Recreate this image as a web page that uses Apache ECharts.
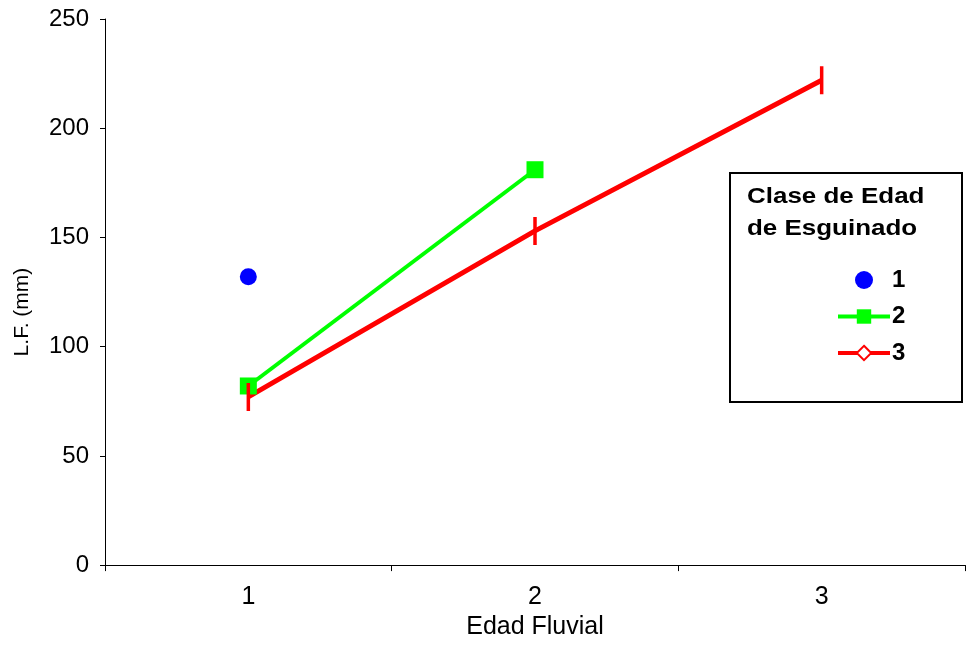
<!DOCTYPE html>
<html>
<head>
<meta charset="utf-8">
<script src="https://cdn.jsdelivr.net/npm/echarts@6/dist/echarts.min.js"></script>
<style>
  html, body { margin: 0; padding: 0; background: #fff; }
  #chart { width: 966px; height: 645px; }
</style>
</head>
<body>
<div id="chart"></div>
<script>
// Edad Fluvial categories and L.F. (mm) by age class
const categories = ['1', '2', '3'];
const clase1 = [132, null, null];
const clase2 = [82, 181, null];
const clase3 = [77, 153, 222];
const seriesNames = ['1', '2', '3'];
const yTicks = { min: 0, max: 250, interval: 50 };

const FONT = '"Liberation Sans", Arial, sans-serif';

const chart = echarts.init(document.getElementById('chart'), null, { renderer: 'canvas' });

chart.setOption({
  backgroundColor: '#ffffff',
  animation: false,
  grid: { left: 105, right: 1, top: 19, bottom: 76 },
  xAxis: {
    type: 'category',
    data: categories,
    boundaryGap: true,
    name: 'Edad Fluvial',
    nameLocation: 'middle',
    nameGap: 41,
    nameTextStyle: { fontFamily: FONT, fontSize: 25, color: '#000' },
    axisLine: { lineStyle: { color: '#000', width: 1 } },
    axisTick: { show: true, length: 6, lineStyle: { color: '#000' } },
    axisLabel: { fontFamily: FONT, fontSize: 25, color: '#000', margin: 20 },
    splitLine: { show: false }
  },
  yAxis: {
    type: 'value',
    min: yTicks.min,
    max: yTicks.max,
    interval: yTicks.interval,
    name: 'L.F. (mm)',
    nameLocation: 'middle',
    nameRotate: 90,
    nameGap: 72,
    nameTextStyle: { fontFamily: FONT, fontSize: 21, color: '#000', padding: [0, 40, 0, 0] },
    axisLine: { show: true, lineStyle: { color: '#000', width: 1 } },
    axisTick: { show: true, length: 5, lineStyle: { color: '#000' } },
    axisLabel: { fontFamily: FONT, fontSize: 24, color: '#000', margin: 16 },
    splitLine: { show: false }
  },
  legend: {
    orient: 'vertical',
    left: 831,
    top: 263,
    itemWidth: 52,
    itemHeight: 18,
    itemGap: 12.5,
    data: seriesNames.map(n => ({ name: n, lineStyle: { width: 4 } })),
    textStyle: {
      fontFamily: FONT, fontSize: 24, fontWeight: 'bold', color: '#000',
      padding: [0, 0, 0, -3]
    }
  },
  graphic: [
    {
      type: 'rect',
      left: 729, top: 172,
      shape: { width: 232, height: 229 },
      style: { fill: '#fff', stroke: '#000', lineWidth: 2 },
      z: -1
    },
    {
      type: 'text',
      left: 747, top: 181,
      scaleX: 1.18,
      style: {
        text: 'Clase de Edad\nde Esguinado',
        fontFamily: FONT,
        fontSize: 22,
        fontWeight: 'bold',
        lineHeight: 32,
        fill: '#000'
      },
      z: 10
    }
  ],
  series: [
    {
      name: seriesNames[0],
      type: 'scatter',
      data: clase1,
      symbol: 'circle',
      symbolSize: 17,
      itemStyle: { color: '#0000ff', opacity: 1 }
    },
    {
      name: seriesNames[1],
      type: 'line',
      data: clase2,
      symbol: 'rect',
      symbolSize: 17,
      showAllSymbol: true,
      itemStyle: { color: '#00ff00' },
      lineStyle: { color: '#00ff00', width: 4 }
    },
    {
      name: seriesNames[2],
      type: 'line',
      // series symbol used in the legend; points drawn as short vertical dashes
      symbol: 'emptyDiamond',
      symbolSize: 14,
      data: clase3.map(v => ({ value: v, symbol: 'rect', symbolSize: [2, 16] })),
      showAllSymbol: true,
      itemStyle: { color: '#ff0000', borderColor: '#ff0000', borderWidth: 1.5 },
      lineStyle: { color: '#ff0000', width: 5 }
    }
  ]
});
</script>
</body>
</html>
